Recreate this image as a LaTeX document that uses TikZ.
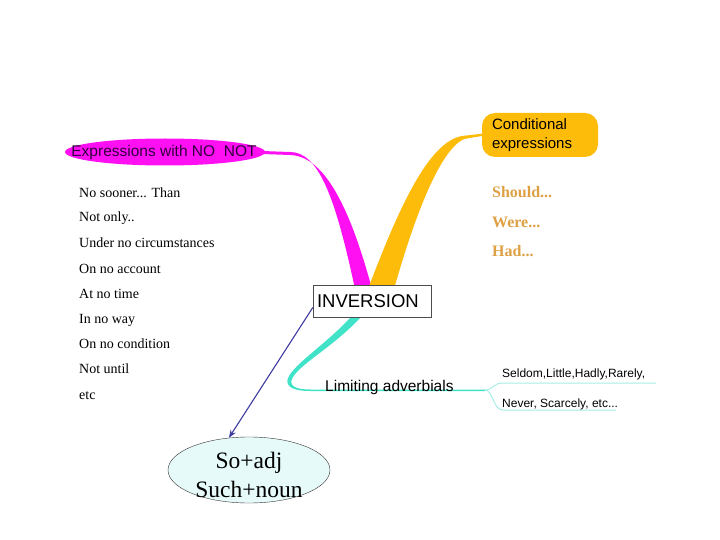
\documentclass[tikz,border=0pt]{standalone}
\usepackage{fontspec}
\setmainfont{Liberation Serif}
\setsansfont{Liberation Sans}
\usepackage{tikz}
\usetikzlibrary{shapes.geometric,arrows.meta}
\tikzset{>=Stealth}
\definecolor{BranchPink}{HTML}{FF10F2}
\definecolor{BranchGold}{HTML}{FDBB0A}
\definecolor{BranchTeal}{HTML}{40E2C8}
\definecolor{TwigTeal}{HTML}{A6EDE4}
\definecolor{CondText}{HTML}{DDA044}
\definecolor{ArrowBlue}{HTML}{3E3AA0}
\definecolor{BubbleBG}{HTML}{E6FAFA}
\definecolor{HeadText}{HTML}{300040}
\newcommand{\listfont}{\fontsize{14}{16}\selectfont}
\newcommand{\condfont}{\fontsize{16}{18}\selectfont\bfseries}
\newcommand{\topicfont}{\sffamily\fontsize{15.5}{19}\selectfont}
\newcommand{\twigfont}{\sffamily\fontsize{12}{14}\selectfont}
\tikzset{negitem/.style={font=\listfont, anchor=base west, inner xsep=0pt}}

\begin{document}
\begin{tikzpicture}[x=1pt,y=-1pt]
  \useasboundingbox (0,0) rectangle (720,540);

  %% Branches
  \fill[BranchPink] (262,151) -- (290,152) .. controls (318,152) and (335,195) .. (355,289)
    -- (372,289) .. controls (348,200) and (322,156) .. (290,155) -- (262,154) -- cycle;
  \fill[BranchGold] (368,289) .. controls (398,210) and (428,142) .. (462,136) -- (488,133)
    -- (488,135) -- (464,139) .. controls (440,150) and (415,215) .. (394,289) -- cycle;
  \fill[BranchTeal] (350,318) -- (360,318) .. controls (332,348) and (298,365) .. (292,379)
    .. controls (289,386) and (296,389.5) .. (310,389.5) -- (485,389.5) -- (485,391)
    -- (310,391) .. controls (292,391) and (285,386) .. (288,378)
    .. controls (294,364) and (326,344) .. (350,318) -- cycle;
  \draw[TwigTeal, line width=1pt] (485,390) .. controls (493,390) and (493,383) .. (503,383) -- (656,383);
  \draw[TwigTeal, line width=1pt] (485,390) .. controls (493,390) and (493,410) .. (503,410) -- (616,410);

  %% Topic nodes
  \fill[BranchPink] (165,152) ellipse [x radius=100, y radius=13.5];
  \node[text=HeadText, inner sep=0pt, font=\topicfont] (expr) at (164,152.5) {Expressions with NO\ \ NOT};
  \node[fill=BranchGold, rounded corners=13pt, text width=96, inner xsep=10pt, minimum height=44,
        align=left, font=\sffamily\fontsize{15}{19}\selectfont] (cond) at (540,135) {Conditional\\expressions};
  \node[draw=black!70, fill=white, text width=110, inner xsep=4pt, minimum height=32, align=left,
        font=\sffamily\fontsize{18.5}{20}\selectfont] (inv) at (372,301.5) {INVERSION};
  \node[font=\topicfont, anchor=base west, inner xsep=0pt] (limit) at (325,391) {Limiting adverbials};
  \node[font=\twigfont, anchor=base west, inner xsep=0pt] (twig1) at (502,377) {Seldom,Little,Hadly,Rarely,};
  \node[font=\twigfont, anchor=base west, inner xsep=0pt] (twig2) at (502,407) {Never, Scarcely, etc...};

  %% Conditional list
  \node[text=CondText, font=\condfont, anchor=base west, inner xsep=0pt] (should) at (492,197) {Should...};
  \node[text=CondText, font=\condfont, anchor=base west, inner xsep=0pt] (were) at (492,227) {Were...};
  \node[text=CondText, font=\condfont, anchor=base west, inner xsep=0pt] (had) at (492,256) {Had...};

  %% Negative expressions list
  \node[negitem] (nosooner) at (79,197) {No sooner... Than};
  \node[negitem] (notonly) at (79,222) {Not only..};
  \node[negitem] (under) at (79,247.5) {Under no circumstances};
  \node[negitem] (account) at (79,273) {On no account};
  \node[negitem] (attime) at (79,298) {At no time};
  \node[negitem] (noway) at (79,323) {In no way};
  \node[negitem] (condition) at (79,348) {On no condition};
  \node[negitem] (until) at (79,373) {Not until};
  \node[negitem] (etc) at (79,399) {etc};

  %% So / Such bubble
  \node[ellipse, draw=black!80, fill=BubbleBG, minimum width=162, minimum height=66,
        inner sep=0pt] (bubble) at (249,470) {};
  \node[align=center, inner sep=0pt, font=\fontsize{23.5}{29.5}\selectfont] (bubbletext) at (249,475)
        {So+adj\\Such+noun};
  \draw[->, ArrowBlue, line width=1.1pt] ([yshift=-6pt]inv.west) -- (bubble.122);
\end{tikzpicture}
\end{document}
